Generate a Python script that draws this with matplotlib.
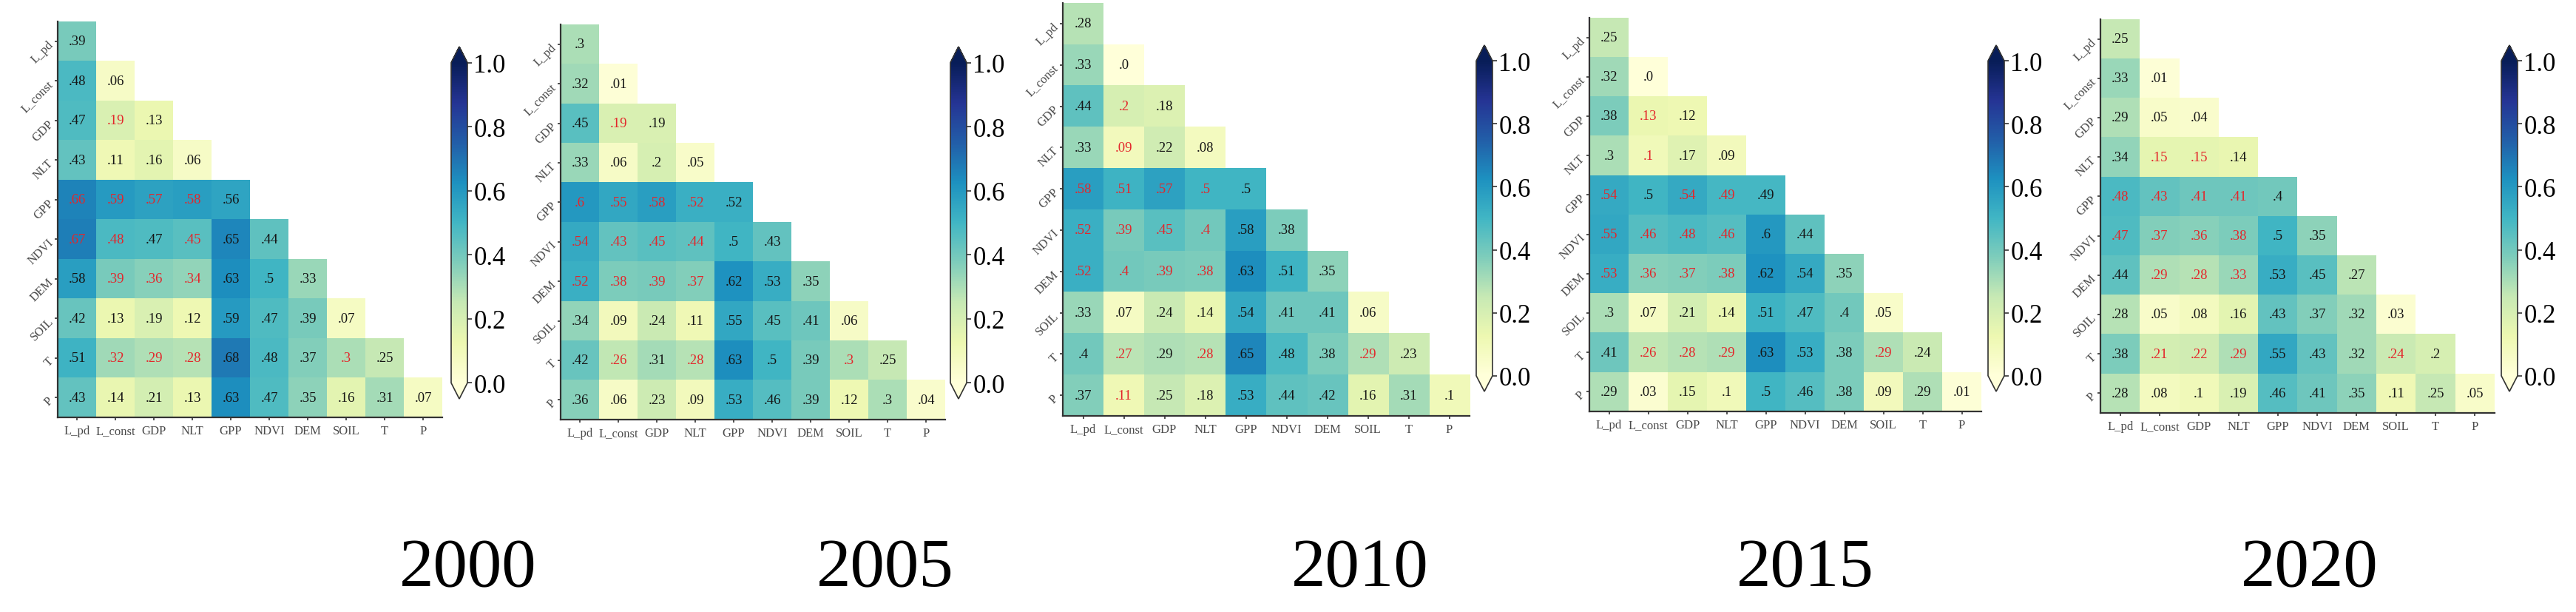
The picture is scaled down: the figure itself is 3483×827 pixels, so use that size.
import numpy as np
import matplotlib
matplotlib.use('Agg')
import matplotlib.pyplot as plt

plt.rcParams['font.family'] = ['Liberation Serif', 'DejaVu Serif']

labels = ['L_pd', 'L_const', 'GDP', 'NLT', 'GPP', 'NDVI', 'DEM', 'SOIL', 'T', 'P']
years = ['2000', '2005', '2010', '2015', '2020']

# lower triangles, negative sign = value printed in red
r2000 = [
    [0.39],
    [0.48, 0.06],
    [0.47, -0.19, 0.13],
    [0.43, 0.11, 0.16, 0.06],
    [-0.66, -0.59, -0.57, -0.58, 0.56],
    [-0.67, -0.48, 0.47, -0.45, 0.65, 0.44],
    [0.58, -0.39, -0.36, -0.34, 0.63, 0.5, 0.33],
    [0.42, 0.13, 0.19, 0.12, 0.59, 0.47, 0.39, 0.07],
    [0.51, -0.32, -0.29, -0.28, 0.68, 0.48, 0.37, -0.3, 0.25],
    [0.43, 0.14, 0.21, 0.13, 0.63, 0.47, 0.35, 0.16, 0.31, 0.07],
]
r2005 = [
    [0.3],
    [0.32, 0.01],
    [0.45, -0.19, 0.19],
    [0.33, 0.06, 0.2, 0.05],
    [-0.6, -0.55, -0.58, -0.52, 0.52],
    [-0.54, -0.43, -0.45, -0.44, 0.5, 0.43],
    [-0.52, -0.38, -0.39, -0.37, 0.62, 0.53, 0.35],
    [0.34, 0.09, 0.24, 0.11, 0.55, 0.45, 0.41, 0.06],
    [0.42, -0.26, 0.31, -0.28, 0.63, 0.5, 0.39, -0.3, 0.25],
    [0.36, 0.06, 0.23, 0.09, 0.53, 0.46, 0.39, 0.12, 0.3, 0.04],
]
r2010 = [
    [0.28],
    [0.33, 0.0],
    [0.44, -0.2, 0.18],
    [0.33, -0.09, 0.22, 0.08],
    [-0.58, -0.51, -0.57, -0.5, 0.5],
    [-0.52, -0.39, -0.45, -0.4, 0.58, 0.38],
    [-0.52, -0.4, -0.39, -0.38, 0.63, 0.51, 0.35],
    [0.33, 0.07, 0.24, 0.14, 0.54, 0.41, 0.41, 0.06],
    [0.4, -0.27, 0.29, -0.28, 0.65, 0.48, 0.38, -0.29, 0.23],
    [0.37, -0.11, 0.25, 0.18, 0.53, 0.44, 0.42, 0.16, 0.31, 0.1],
]
r2015 = [
    [0.25],
    [0.32, 0.0],
    [0.38, -0.13, 0.12],
    [0.3, -0.1, 0.17, 0.09],
    [-0.54, 0.5, -0.54, -0.49, 0.49],
    [-0.55, -0.46, -0.48, -0.46, 0.6, 0.44],
    [-0.53, -0.36, -0.37, -0.38, 0.62, 0.54, 0.35],
    [0.3, 0.07, 0.21, 0.14, 0.51, 0.47, 0.4, 0.05],
    [0.41, -0.26, -0.28, -0.29, 0.63, 0.53, 0.38, -0.29, 0.24],
    [0.29, 0.03, 0.15, 0.1, 0.5, 0.46, 0.38, 0.09, 0.29, 0.01],
]
r2020 = [
    [0.25],
    [0.33, 0.01],
    [0.29, 0.05, 0.04],
    [0.34, -0.15, -0.15, 0.14],
    [-0.48, -0.43, -0.41, -0.41, 0.4],
    [-0.47, -0.37, -0.36, -0.38, 0.5, 0.35],
    [0.44, -0.29, -0.28, -0.33, 0.53, 0.45, 0.27],
    [0.28, 0.05, 0.08, 0.16, 0.43, 0.37, 0.32, 0.03],
    [0.38, -0.21, -0.22, -0.29, 0.55, 0.43, 0.32, -0.24, 0.2],
    [0.28, 0.08, 0.1, 0.19, 0.46, 0.41, 0.35, 0.11, 0.25, 0.05],
]
tables = [r2000, r2005, r2010, r2015, r2020]

W, H = 3483, 828
# pixel boxes (left, top, right, bottom)
heat_boxes = [(78, 30, 598, 565), (758, 34, 1278, 568), (1437, 5, 1987, 563),
              (2149, 25, 2679, 557), (2840, 27, 3373, 559)]
cbar_x = [(610, 632), (1285, 1307), (1996, 2018), (2688, 2710), (3382, 3404)]
cbar_y = [(64, 540), (64, 540), (62, 530), (62, 530), (62, 530)]
year_x = [633, 1197, 1839, 2441, 3123]

fig = plt.figure(figsize=(W / 100, H / 100), dpi=100)


def px_axes(l, t, r, b):
    return fig.add_axes([l / W, 1 - b / H, (r - l) / W, (b - t) / H])


def fmt(v):
    s = ('%g' % abs(v)).lstrip('0')
    return s if s else '.0'


for k, rows in enumerate(tables):
    n = len(labels)
    m = np.full((n, n), np.nan)
    for i, row in enumerate(rows):
        m[i, :len(row)] = row
    ax = px_axes(*heat_boxes[k])
    im = ax.imshow(np.ma.masked_invalid(np.abs(m)), cmap='YlGnBu', vmin=0, vmax=1,
                   aspect='auto', interpolation='nearest')
    for i, row in enumerate(rows):
        for j, v in enumerate(row):
            ax.text(j, i, fmt(v), ha='center', va='center', fontsize=13.5,
                    color='#e3262b' if v < 0 else '#151515')
    ax.set_xticks(range(n))
    ax.set_yticks(range(n))
    ax.set_xticklabels(labels, fontsize=12, color='#4a4a4a')
    ax.set_yticklabels(labels, fontsize=12, color='#4a4a4a', rotation=45,
                       ha='right', rotation_mode='anchor')
    ax.tick_params(length=3, width=1.2, color='#333333', pad=4)
    for side in ['top', 'right']:
        ax.spines[side].set_visible(False)
    for side in ['left', 'bottom']:
        ax.spines[side].set_color('#333333')
        ax.spines[side].set_linewidth(1.6)

    cax = px_axes(cbar_x[k][0], cbar_y[k][0], cbar_x[k][1], cbar_y[k][1])
    cb = fig.colorbar(im, cax=cax, extend='both', ticks=np.arange(0, 1.01, 0.2))
    cb.ax.set_yticklabels(['%.1f' % t for t in np.arange(0, 1.01, 0.2)])
    cb.ax.tick_params(labelsize=25, length=4, width=1.2, color='#333333', pad=2)
    cb.outline.set_edgecolor('#333333')
    cb.outline.set_linewidth(1.2)

    fig.text(year_x[k] / W, 1 - 770 / H, years[k], ha='center', va='center',
             fontsize=67)

fig.savefig('out.png', dpi=100)
